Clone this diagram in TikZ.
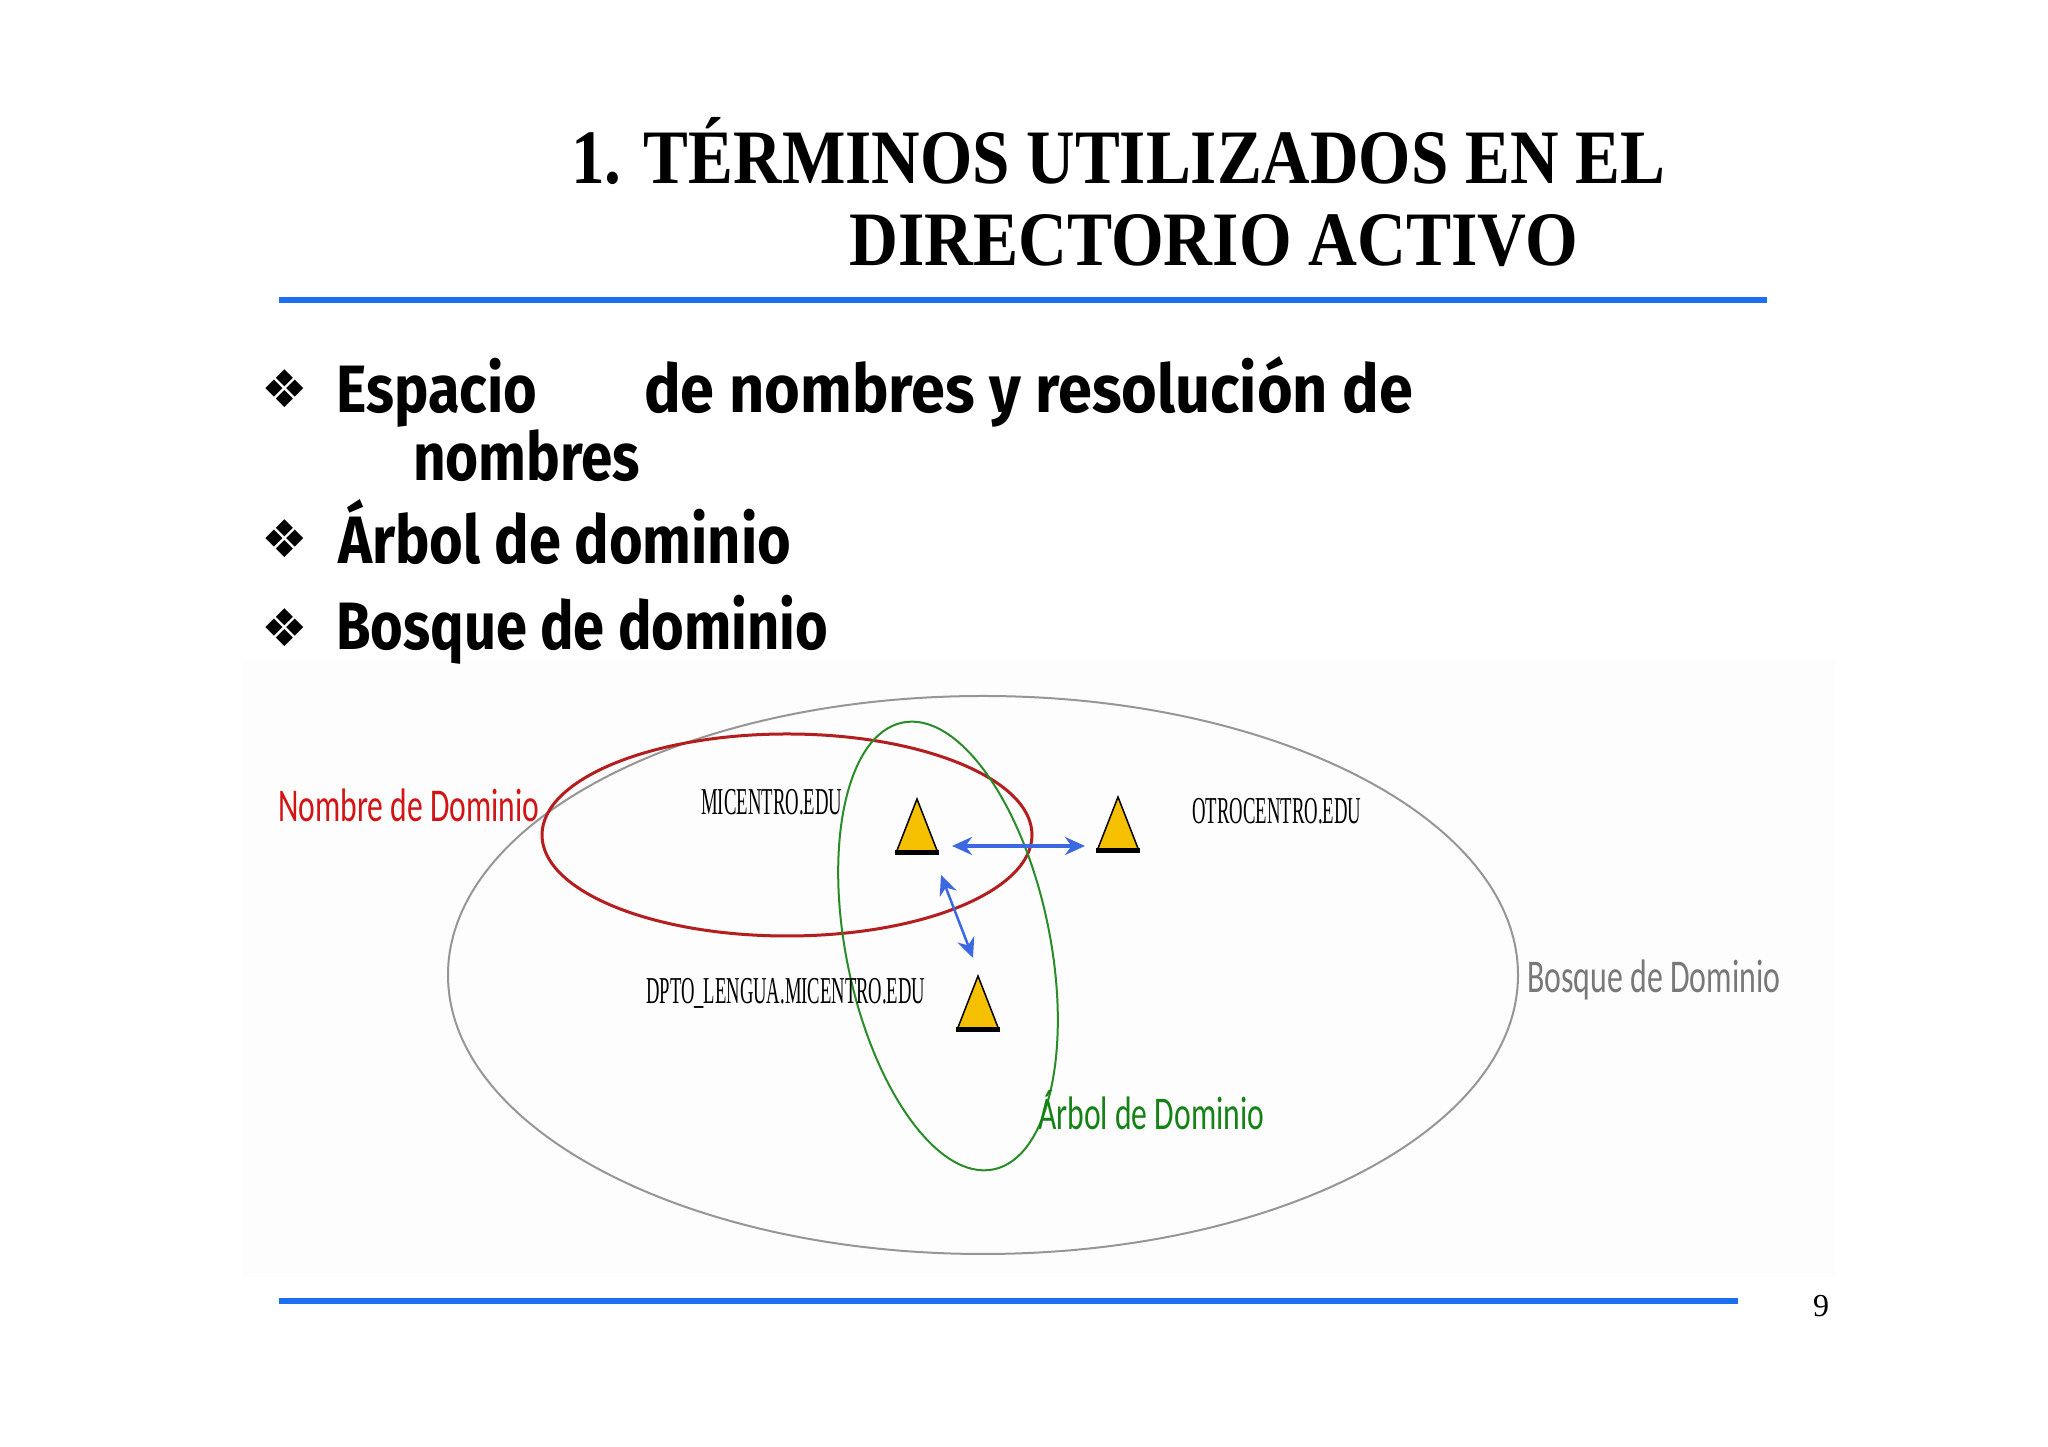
\documentclass[tikz,border=0pt]{standalone}
\usepackage{fontspec}
\usepackage{graphicx}
\usetikzlibrary{arrows.meta}
\newfontfamily\titlefont{Liberation Serif}
\newfontfamily\bulfont{Fira Sans}
\newfontfamily\symfont{DejaVu Sans}
\newfontfamily\calfont{Carlito}
\newfontfamily\serfont{Liberation Serif}
\definecolor{ruleblue}{RGB}{30,110,240}
\definecolor{arrblue}{RGB}{60,105,225}
\definecolor{trifill}{RGB}{245,192,0}
\definecolor{redell}{RGB}{180,30,30}
\definecolor{rednm}{RGB}{210,20,20}
\definecolor{greenell}{RGB}{40,140,40}
\definecolor{greentx}{RGB}{20,130,20}
\definecolor{grayell}{RGB}{150,150,150}
\definecolor{graytx}{RGB}{120,120,120}
\tikzset{
  txt/.style={anchor=base west, inner sep=0pt},
  titletxt/.style={txt, font=\titlefont\bfseries\fontsize{77}{90}\selectfont},
  bultxt/.style={txt, font=\bulfont\bfseries\fontsize{67}{80}\selectfont},
  bulsym/.style={anchor=center, inner sep=0pt, font=\symfont\fontsize{52}{58}\selectfont},
  domtxt/.style={txt, font=\serfont\fontsize{38}{44}\selectfont},
  lbltxt/.style={txt, font=\calfont\fontsize{47}{54}\selectfont},
  conn/.style={arrblue, {Stealth[length=20pt,width=18pt]}-{Stealth[length=20pt,width=18pt]}},
  domtri/.pic={
    \filldraw[fill=trifill, draw=black, line width=1.5pt] (-21,0) -- (0,54) -- (21,0) -- cycle;
    \draw[black, line width=5pt] (-22,0) -- (22,0);
  }
}
\begin{document}
\begin{tikzpicture}[x=1pt,y=1pt]
\useasboundingbox (0,0) rectangle (2048,1447);
\fill[white] (0,0) rectangle (2048,1447);
\fill[black!0.8] (242,170) rectangle (1835,787);

% title
\node[titletxt] (title1) at (571,1263) {\resizebox{1094pt}{\height}{1. TÉRMINOS UTILIZADOS EN EL}};
\node[titletxt] (title2) at (849,1181) {\resizebox{729pt}{\height}{DIRECTORIO ACTIVO}};
\draw[ruleblue, line width=6pt] (279,1147) -- (1767,1147);

% bullets
\node[bulsym] (b1) at (285,1058) {❖};
\node[bulsym] (b2) at (285,908) {❖};
\node[bulsym] (b3) at (285,819) {❖};
\node[bultxt] (l1a) at (336,1034) {\resizebox{201pt}{\height}{Espacio}};
\node[bultxt] (l1b) at (644,1034) {\resizebox{769pt}{\height}{de nombres y resolución de}};
\node[bultxt] (l1c) at (413,966) {\resizebox{227pt}{\height}{nombres}};
\node[bultxt] (l2) at (338,883) {\resizebox{453pt}{\height}{Árbol de dominio}};
\node[bultxt] (l3) at (336,797) {\resizebox{492pt}{\height}{Bosque de dominio}};

% diagram ellipses
\draw[grayell, line width=2pt] (983,472) ellipse [x radius=535, y radius=279];
\draw[redell, line width=3pt] (787,612) ellipse [x radius=245, y radius=101];
\draw[greenell, line width=2pt, rotate around={11.5:(948,501)}] (948,501) ellipse [x radius=102, y radius=228];

% domain triangles
\pic at (917,594) {domtri};
\pic at (1118,596) {domtri};
\pic at (978,417) {domtri};

% arrows
\coordinate (h1) at (952,601);
\coordinate (h2) at (1085,601);
\coordinate (d1) at (941,572);
\coordinate (d2) at (973,489);
\draw[conn, line width=3.5pt] (h1) -- (h2);
\draw[conn, line width=2.5pt] (d1) -- (d2);

% labels
\node[lbltxt, text=rednm] (nd) at (278,625.5) {\resizebox{261pt}{\height}{Nombre de Dominio}};
\node[domtxt] (mic) at (701,632.5) {\resizebox{141pt}{\height}{MICENTRO.EDU}};
\node[domtxt] (otro) at (1192,623.5) {\resizebox{169pt}{\height}{OTROCENTRO.EDU}};
\node[domtxt] (dpto) at (646,443.5) {\resizebox{279pt}{\height}{DPTO\_LENGUA.MICENTRO.EDU}};
\node[lbltxt, text=graytx] (bd) at (1527,454) {\resizebox{253pt}{\height}{Bosque de Dominio}};
\node[lbltxt, text=greentx] (ad) at (1038,317) {\resizebox{226pt}{\height}{Árbol de Dominio}};

% footer
\draw[ruleblue, line width=6pt] (279,146) -- (1738,146);
\node[txt, font=\serfont\fontsize{32}{38}\selectfont] (pg) at (1813,130) {9};
\end{tikzpicture}
\end{document}
